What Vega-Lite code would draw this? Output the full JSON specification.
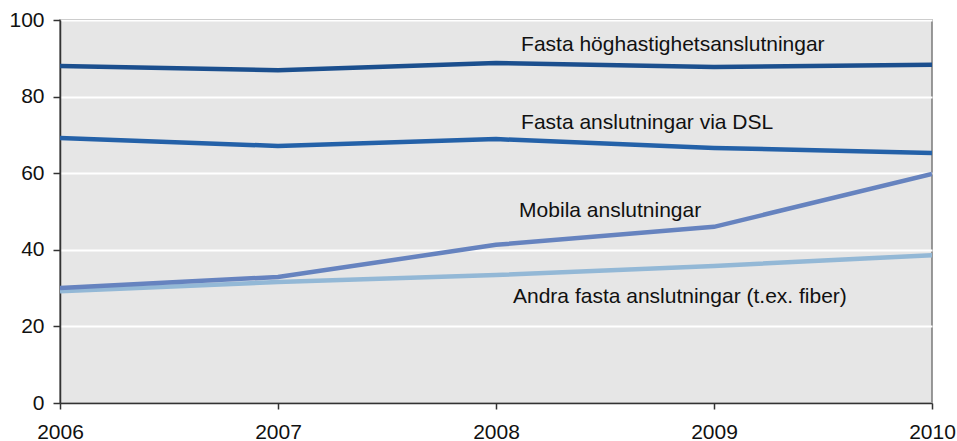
{
  "$schema": "https://vega.github.io/schema/vega-lite/v6.json",
  "autosize": "none",
  "width": 872,
  "height": 383,
  "padding": {"left": 60, "top": 20, "right": 25, "bottom": 38},
  "background": "white",
  "config": {
    "view": {"fill": "#e6e6e6", "stroke": "#7a7a7a", "strokeWidth": 1.5},
    "font": "Liberation Sans",
    "axis": {"labelFont": "Liberation Sans", "labelFontSize": 21, "labelColor": "#111", "domainColor": "#333", "domainWidth": 1.5, "tickColor": "#333", "tickWidth": 1.5, "tickSize": 7, "gridColor": "white", "gridWidth": 2, "gridOpacity": 1}
  },
  "datasets": {
    "series": [
      {"year": 2006, "value": 88.0, "series": "Fasta höghastighetsanslutningar"},
      {"year": 2007, "value": 86.9, "series": "Fasta höghastighetsanslutningar"},
      {"year": 2008, "value": 88.8, "series": "Fasta höghastighetsanslutningar"},
      {"year": 2009, "value": 87.7, "series": "Fasta höghastighetsanslutningar"},
      {"year": 2010, "value": 88.3, "series": "Fasta höghastighetsanslutningar"},
      {"year": 2006, "value": 69.2, "series": "Fasta anslutningar via DSL"},
      {"year": 2007, "value": 67.1, "series": "Fasta anslutningar via DSL"},
      {"year": 2008, "value": 68.9, "series": "Fasta anslutningar via DSL"},
      {"year": 2009, "value": 66.6, "series": "Fasta anslutningar via DSL"},
      {"year": 2010, "value": 65.3, "series": "Fasta anslutningar via DSL"},
      {"year": 2006, "value": 29.2, "series": "Andra fasta anslutningar (t.ex. fiber)"},
      {"year": 2007, "value": 31.6, "series": "Andra fasta anslutningar (t.ex. fiber)"},
      {"year": 2008, "value": 33.4, "series": "Andra fasta anslutningar (t.ex. fiber)"},
      {"year": 2009, "value": 35.8, "series": "Andra fasta anslutningar (t.ex. fiber)"},
      {"year": 2010, "value": 38.6, "series": "Andra fasta anslutningar (t.ex. fiber)"},
      {"year": 2006, "value": 30.0, "series": "Mobila anslutningar"},
      {"year": 2007, "value": 32.9, "series": "Mobila anslutningar"},
      {"year": 2008, "value": 41.3, "series": "Mobila anslutningar"},
      {"year": 2009, "value": 46.0, "series": "Mobila anslutningar"},
      {"year": 2010, "value": 59.8, "series": "Mobila anslutningar"}
    ],
    "labels": [
      {"year": 2008.115, "value": 93.5, "label": "Fasta höghastighetsanslutningar"},
      {"year": 2008.115, "value": 73.1, "label": "Fasta anslutningar via DSL"},
      {"year": 2008.106, "value": 50.1, "label": "Mobila anslutningar"},
      {"year": 2008.078, "value": 27.7, "label": "Andra fasta anslutningar (t.ex. fiber)"}
    ]
  },
  "layer": [
    {
      "data": {"name": "series"},
      "mark": {"type": "line", "strokeWidth": 4.5, "clip": true},
      "encoding": {
        "x": {"field": "year", "type": "quantitative", "scale": {"domain": [2006, 2010], "nice": false, "zero": false},
              "axis": {"title": null, "values": [2006, 2007, 2008, 2009, 2010], "format": "d", "grid": false, "labelFlush": false, "labelPadding": 12, "tickSize": 6}},
        "y": {"field": "value", "type": "quantitative", "scale": {"domain": [0, 100], "nice": false},
              "axis": {"title": null, "values": [0, 20, 40, 60, 80, 100], "labelFlush": false, "labelPadding": 9, "tickSize": 7}},
        "color": {"field": "series", "type": "nominal", "legend": null,
                  "scale": {"domain": ["Fasta höghastighetsanslutningar", "Fasta anslutningar via DSL", "Andra fasta anslutningar (t.ex. fiber)", "Mobila anslutningar"],
                            "range": ["#1b4f8e", "#2461a8", "#93b8d6", "#6683bf"]}},
        "order": {"field": "series"}
      }
    },
    {
      "data": {"name": "labels"},
      "mark": {"type": "text", "align": "left", "baseline": "middle", "fontSize": 21, "font": "Liberation Sans", "color": "#111"},
      "encoding": {
        "x": {"field": "year", "type": "quantitative"},
        "y": {"field": "value", "type": "quantitative"},
        "text": {"field": "label"}
      }
    }
  ]
}
